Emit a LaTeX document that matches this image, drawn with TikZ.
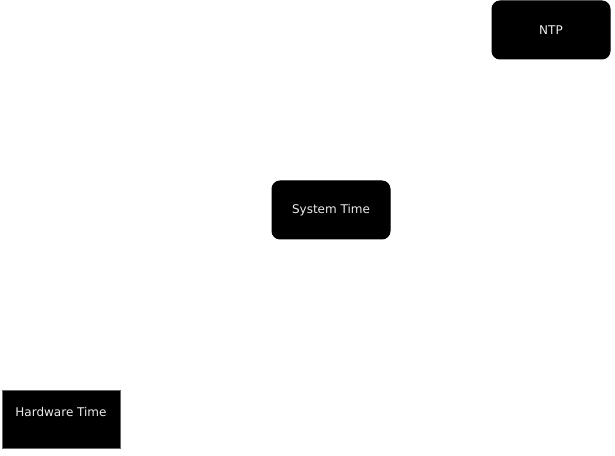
\documentclass[tikz,border=0pt]{standalone}
\usepackage{fontspec}
\setmainfont{DejaVu Sans}
\tikzset{
  timebox/.style={fill=black, draw=black, line width=0.75pt, text=white!92!black,
    font={\fontsize{9pt}{11pt}\selectfont}, minimum width=88.5pt, minimum height=43.5pt,
    inner sep=0pt, rounded corners=6pt},
  hwbox/.style={timebox, rounded corners=0pt, draw=black!60, text depth=12pt}
}
\begin{document}
\begin{tikzpicture}[x=0.75pt,y=-0.75pt]
\useasboundingbox (0,0) rectangle (615,456);
\node[timebox] (ntp) at (551,30) {NTP};
\node[timebox] (systime) at (331,210) {System Time};
\node[hwbox] (hwtime) at (61,420) {Hardware Time};
\end{tikzpicture}
\end{document}
